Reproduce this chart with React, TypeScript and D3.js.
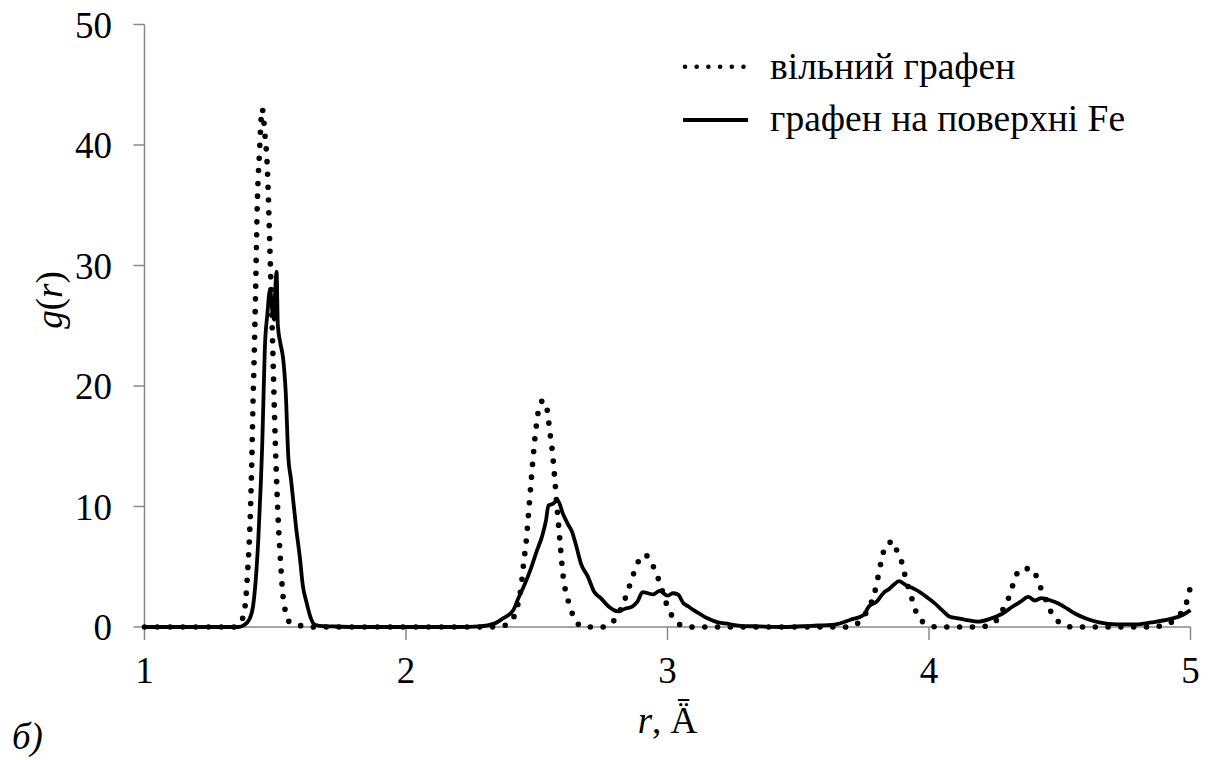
import React from "react";
import * as d3 from "d3";

// g(r) for free graphene (dotted) — [r, g]
const freeGraphene: [number, number][] = [
  [1.0, 0], [1.34, 0], [1.36, 0.2], [1.375, 0.7], [1.385, 1.8], [1.395, 4.8], [1.405, 9.5], [1.41, 13.5],
  [1.415, 18.5], [1.42, 23], [1.425, 28], [1.43, 34], [1.44, 39.5], [1.45, 43], [1.46, 41], [1.47, 38],
  [1.48, 31], [1.49, 23.5], [1.5, 15.5], [1.51, 9.5], [1.52, 5.5], [1.53, 2.5], [1.54, 1.2], [1.555, 0.4],
  [1.6, 0.1], [1.65, 0],
  [2.3, 0], [2.36, 0.05], [2.4, 0.4], [2.42, 1.3], [2.44, 3.3], [2.45, 5.3], [2.46, 7.2], [2.47, 9.8],
  [2.48, 12.5], [2.49, 15], [2.5, 17], [2.51, 18.3], [2.525, 18.8], [2.54, 18], [2.55, 16.2], [2.56, 14.5],
  [2.57, 12], [2.58, 9.3], [2.59, 6.8], [2.6, 4.4], [2.62, 2.2], [2.64, 0.9], [2.66, 0.2], [2.68, 0],
  [2.76, 0], [2.78, 0.2], [2.81, 1.0], [2.83, 1.9], [2.85, 3.1], [2.87, 4.4], [2.89, 5.5], [2.91, 6.0],
  [2.93, 5.7], [2.95, 4.8], [2.97, 3.7], [2.99, 2.3], [3.01, 1.2], [3.03, 0.6], [3.055, 0.1], [3.1, 0],
  [3.68, 0], [3.71, 0.1], [3.745, 0.7], [3.77, 1.6], [3.79, 2.7], [3.8, 3.6], [3.81, 4.7], [3.82, 5.7],
  [3.835, 6.8], [3.865, 7.1], [3.88, 6.1], [3.9, 5.1], [3.91, 4.1], [3.925, 3.0], [3.94, 2.0], [3.955, 1.0],
  [3.99, 0.25], [4.03, 0],
  [4.19, 0], [4.235, 0.2], [4.27, 0.9], [4.29, 1.8], [4.31, 2.7], [4.325, 3.8], [4.35, 4.8], [4.39, 4.85],
  [4.415, 4.0], [4.43, 3.1], [4.45, 2.1], [4.47, 1.1], [4.505, 0.3], [4.55, 0],
  [4.86, 0], [4.9, 0.2], [4.94, 0.6], [4.97, 1.4], [4.99, 2.4], [5.0, 3.4],
];

// g(r) for graphene on Fe surface (solid) — [r, g]
const grapheneOnFe: [number, number][] = [
  [1.0, 0], [1.36, 0], [1.38, 0.15], [1.4, 0.6], [1.415, 1.7], [1.425, 3.8], [1.435, 7.2], [1.445, 12],
  [1.45, 15], [1.455, 19], [1.46, 23], [1.47, 26], [1.48, 28], [1.49, 26], [1.495, 25.5], [1.5, 28],
  [1.505, 29.5], [1.51, 25], [1.52, 23.5], [1.53, 22.3], [1.54, 19.5], [1.55, 14.1], [1.56, 12.3],
  [1.58, 8.2], [1.595, 5.6], [1.605, 3.5], [1.62, 2.0], [1.635, 0.8], [1.65, 0.2], [1.67, 0.1],
  [1.72, 0.05], [1.8, 0],
  [2.2, 0], [2.28, 0.05], [2.34, 0.3], [2.37, 0.7], [2.41, 1.4], [2.43, 2.4], [2.455, 3.6], [2.475, 4.7],
  [2.5, 6.3], [2.52, 7.5], [2.535, 8.8], [2.545, 10.1], [2.56, 10.2], [2.58, 10.5], [2.6, 9.4],
  [2.62, 8.5], [2.635, 7.9], [2.65, 6.8], [2.67, 5.2], [2.695, 4.2], [2.72, 2.9], [2.745, 2.4],
  [2.775, 1.7], [2.81, 1.3], [2.835, 1.5], [2.865, 1.7], [2.885, 2.1], [2.905, 2.9], [2.925, 2.8],
  [2.945, 2.7], [2.97, 3.0], [3.0, 2.6], [3.02, 2.8], [3.04, 2.7], [3.06, 2.0], [3.08, 1.7], [3.1, 1.4],
  [3.13, 1.0], [3.155, 0.7], [3.19, 0.4], [3.22, 0.3], [3.28, 0.1], [3.35, 0.05], [3.45, 0],
  [3.55, 0.1], [3.64, 0.2], [3.7, 0.6], [3.75, 1.0], [3.77, 1.7], [3.8, 2.1], [3.825, 2.8], [3.85, 3.2],
  [3.865, 3.5], [3.885, 3.8], [3.91, 3.5], [3.94, 3.2], [3.965, 2.9], [3.99, 2.5], [4.02, 2.0],
  [4.05, 1.4], [4.08, 0.85], [4.11, 0.72], [4.14, 0.6], [4.19, 0.45], [4.23, 0.65], [4.28, 1.1],
  [4.32, 1.7], [4.35, 2.1], [4.38, 2.5], [4.405, 2.2], [4.43, 2.4], [4.465, 2.2], [4.495, 1.95],
  [4.53, 1.5], [4.56, 1.1], [4.6, 0.7], [4.65, 0.38], [4.72, 0.22], [4.79, 0.22], [4.85, 0.38],
  [4.92, 0.65], [4.97, 1.0], [5.0, 1.4],
];

const xTicks = [1, 2, 3, 4, 5];
const yTicks = [0, 10, 20, 30, 40, 50];
const legendLabels = ["вільний графен", "графен на поверхні Fe"];

const FONT = "Liberation Serif";
const AXIS = "#898989";
const TS: React.CSSProperties = { fontFamily: FONT, fontSize: 37 };
const LS: React.CSSProperties = { fontFamily: FONT, fontSize: 37.5 };

export default function App() {
  const x = d3.scaleLinear().domain([1, 5]).range([144.5, 1190.5]);
  const y = d3.scaleLinear().domain([0, 50]).range([627, 24.5]);
  const line = d3
    .line<[number, number]>()
    .x((d) => x(d[0]))
    .y((d) => y(d[1]))
    .curve(d3.curveMonotoneX);

  return (
    <svg
      width={1212}
      height={760}
      style={{ position: "absolute", left: 0, top: 0, background: "#fff" }}
    >
      <rect width={1212} height={760} fill="#fff" />
      {/* axes */}
      <line x1={x(1)} x2={x(1)} y1={y(50)} y2={y(0)} stroke={AXIS} strokeWidth={1.5} />
      <line x1={x(1)} x2={x(5)} y1={y(0)} y2={y(0)} stroke={AXIS} strokeWidth={1.5} />
      {yTicks.map((t) => (
        <g key={"y" + t}>
          <line x1={x(1) - 11} x2={x(1)} y1={y(t)} y2={y(t)} stroke={AXIS} strokeWidth={1.5} />
          <text x={112} y={y(t) + 13} textAnchor="end" style={TS} fill="#000">
            {t}
          </text>
        </g>
      ))}
      {xTicks.map((t) => (
        <g key={"x" + t}>
          <line x1={x(t)} x2={x(t)} y1={y(0)} y2={y(0) + 13} stroke={AXIS} strokeWidth={1.5} />
          <text x={x(t)} y={683} textAnchor="middle" style={TS} fill="#000">
            {t}
          </text>
        </g>
      ))}
      {/* series */}
      <path
        d={line(grapheneOnFe) || ""}
        fill="none"
        stroke="#000"
        strokeWidth={3.8}
        strokeLinejoin="round"
      />
      <path
        d={line(freeGraphene) || ""}
        fill="none"
        stroke="#000"
        strokeWidth={5.6}
        strokeLinecap="round"
        strokeDasharray="0 12.8"
      />
      {/* legend */}
      <line x1={685} x2={748} y1={66.7} y2={66.7} stroke="#000" strokeWidth={4.6} strokeLinecap="round" strokeDasharray="0 11.7" />
      <text x={770} y={79} style={LS} fill="#000">{legendLabels[0]}</text>
      <line x1={683} x2={748} y1={120} y2={120} stroke="#000" strokeWidth={4} />
      <text x={770} y={131} style={LS} fill="#000">{legendLabels[1]}</text>
      {/* axis titles */}
      <text transform="translate(62,300) rotate(-90)" textAnchor="middle" style={TS} fill="#000">
        <tspan fontStyle="italic">g</tspan>(<tspan fontStyle="italic">r</tspan>)
      </text>
      <text x={667.5} y={733} textAnchor="middle" style={TS} fill="#000">
        <tspan fontStyle="italic">r</tspan>, Ǟ
      </text>
      <text x={12} y={749} style={{ ...TS, fontStyle: "italic" }} fill="#000">
        б)
      </text>
    </svg>
  );
}
